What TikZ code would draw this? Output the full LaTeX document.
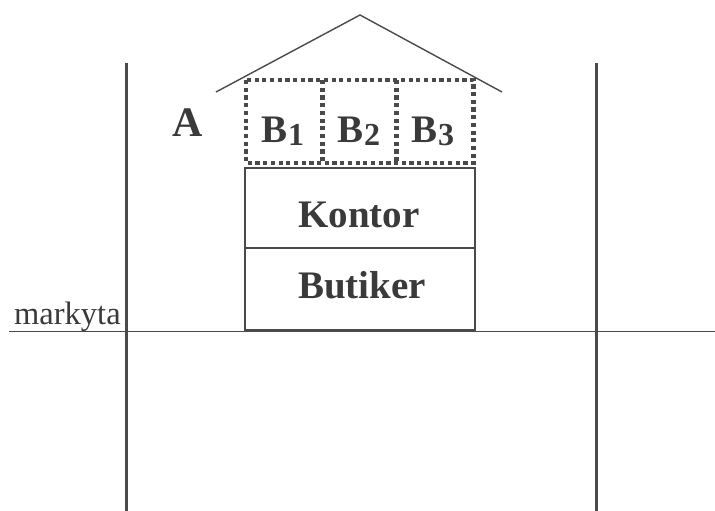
\documentclass[tikz,border=0pt]{standalone}
\usepackage{fontspec}
\setmainfont{Liberation Serif}
\definecolor{linegray}{HTML}{4A4A4A}
\definecolor{inkgray}{HTML}{3A3A3A}
\newcommand{\lowdig}[1]{\raisebox{-0.1em}{\fontsize{32}{34}\selectfont #1}}
\begin{document}
\begin{tikzpicture}[x=1pt,y=-1pt,
  wall/.style={draw=linegray,line width=3pt},
  thin/.style={draw=linegray,line width=1.4pt},
  roomline/.style={draw=linegray,line width=1.6pt},
  dotline/.style={draw=linegray,line width=4.2pt,dash pattern=on 4.2pt off 3.5pt},
  biglabel/.style={inner sep=0pt,anchor=base,text=inkgray,font=\fontsize{39}{41}\selectfont\bfseries},
  smalllabel/.style={inner sep=0pt,anchor=base west,text=inkgray,font=\fontsize{32.5}{34}\selectfont}]
\useasboundingbox (0,0) rectangle (715,511);

% ground line and the two walls
\coordinate (gl) at (9,331.5);
\coordinate (gr) at (715,331.5);
\draw[thin] (gl) -- (gr);
\coordinate (wlt) at (126,63);
\coordinate (wlb) at (126,511);
\coordinate (wrt) at (596,63);
\coordinate (wrb) at (596,511);
\draw[wall] (wlt) -- (wlb);
\draw[wall] (wrt) -- (wrb);
\node[smalllabel] (mk) at (14,324) {markyta};

% roof
\coordinate (rl) at (216,92);
\coordinate (rt) at (360,15);
\coordinate (rr) at (502,92);
\draw[thin,line join=miter] (rl) -- (rt) -- (rr);

% attic rooms, dotted
\draw[dotline] (246,80) rectangle (473.5,163);
\draw[dotline] (322.5,80) -- (322.5,163);
\draw[dotline] (396.5,80) -- (396.5,163);
\node[biglabel] (b1) at (283,142) {B\lowdig{1}};
\node[biglabel] (b2) at (359,142) {B\lowdig{2}};
\node[biglabel] (b3) at (433,142) {B\lowdig{3}};
\node[biglabel,font=\fontsize{42}{44}\selectfont\bfseries] (a) at (188,136) {A};

% office and shop floors
\draw[roomline] (245,168) rectangle (475,330);
\draw[roomline] (245,248) -- (475,248);
\node[biglabel] (kontor) at (359,227) {Kontor};
\node[biglabel] (butiker) at (362,298) {Butiker};
\end{tikzpicture}
\end{document}
